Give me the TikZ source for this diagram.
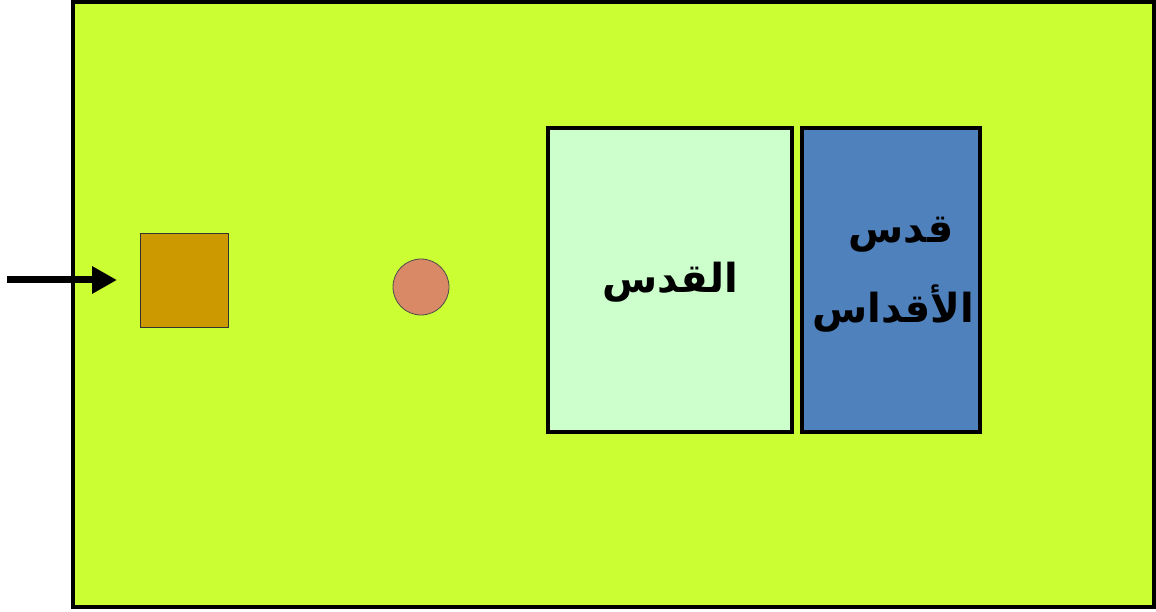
\documentclass[tikz,border=0pt]{standalone}
\usepackage{fontspec}
\TeXXeTstate=1
\newfontfamily\arabicfont[Script=Arabic]{DejaVu Sans}
\usetikzlibrary{arrows.meta}
\definecolor{bgyellow}{HTML}{CCFF33}
\definecolor{sqbrown}{HTML}{CC9900}
\definecolor{circsalmon}{HTML}{D98966}
\definecolor{lightgreen}{HTML}{CCFFCC}
\definecolor{boxblue}{HTML}{4F81BD}
\tikzset{
  room/.style={draw=black, line width=4.5pt},
  label/.style={font=\arabicfont\bfseries\fontsize{40}{80}\selectfont, align=center, text=black}
}
\begin{document}
\begin{tikzpicture}[x=1pt,y=-1pt]
\useasboundingbox (0,0) rectangle (1156,612);
\draw[fill=bgyellow, draw=black, line width=4pt] (73,2) rectangle (1154,607);
\node[draw=black!80, line width=1pt, fill=sqbrown, minimum width=88pt, minimum height=93pt, inner sep=0pt] (sq) at (184,280.5) {};
\node[draw=black!70, line width=0.8pt, fill=circsalmon, circle, minimum size=56pt, inner sep=0pt] (circ) at (421,287) {};
\coordinate (start) at (7,280);
\coordinate (tip) at (117,280);
\draw[line width=7pt, -{Triangle[length=25pt,width=26pt]}] (start) -- (tip);
\node[room, fill=lightgreen, minimum width=244pt, minimum height=304pt, inner sep=0pt] (holy) at (670,280) {};
\node[room, fill=boxblue, minimum width=178pt, minimum height=304pt, inner sep=0pt] (holiest) at (891,280) {};
\node[label] (t1) at (670,282) {\beginR القدس\endR};
\node[label] (t2) at (893,275) {\hspace*{16pt}\beginR قدس\endR\\\beginR الأقداس\endR};
\end{tikzpicture}
\end{document}
